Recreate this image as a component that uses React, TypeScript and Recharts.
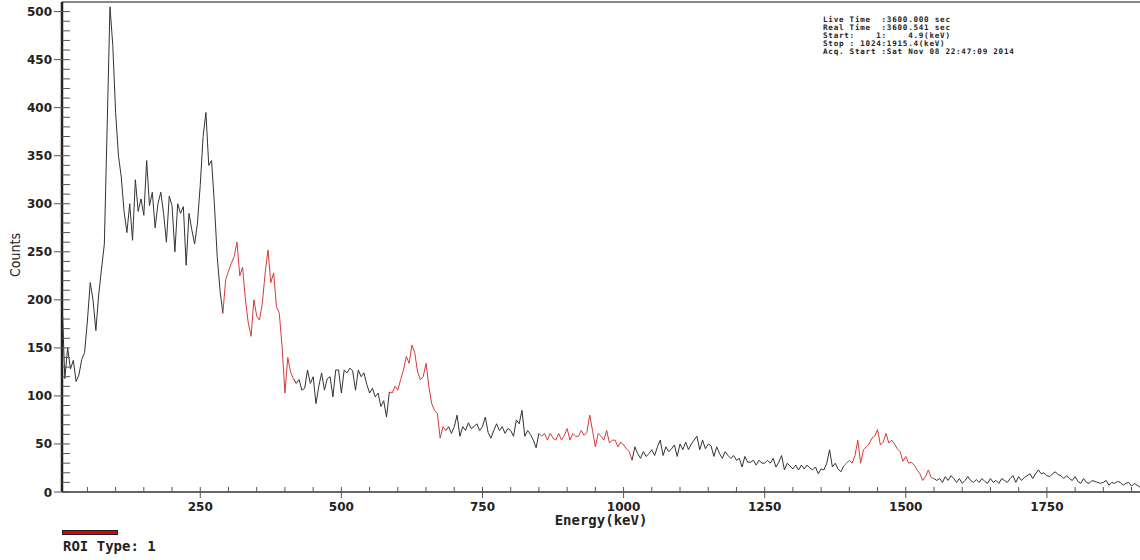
import React from 'react';
import { LineChart, Line, XAxis, YAxis, Label, ReferenceLine } from 'recharts';

// spectrum sampled every 5 keV, starting at 5 keV
const startKeV = 5;
const stepKeV = 5;

const counts5to250 = [
  200, 118, 150, 128, 137, 115, 122, 138, 145, 178,
  218, 200, 168, 205, 232, 258, 380, 505, 465, 395,
  350, 328, 292, 270, 300, 262, 325, 292, 305, 288,
  345, 298, 312, 275, 300, 312, 290, 260, 308, 298,
  250, 300, 290, 297, 236, 290, 273, 258, 280, 320,
];
const counts255to500 = [
  370, 395, 340, 345, 300, 245, 210, 186, 221, 230,
  238, 245, 260, 225, 234, 200, 176, 162, 200, 183,
  179, 197, 228, 252, 218, 228, 193, 186, 151, 103,
  140, 125, 118, 113, 117, 106, 108, 127, 113, 120,
  92, 110, 124, 106, 118, 120, 99, 127, 127, 103,
];
const counts505to750 = [
  127, 124, 129, 126, 106, 127, 120, 124, 112, 103,
  108, 99, 103, 89, 95, 78, 104, 103, 110, 106,
  117, 127, 141, 134, 153, 145, 125, 117, 120, 134,
  110, 92, 85, 82, 56, 68, 64, 68, 61, 68,
  80, 58, 68, 64, 72, 66, 68, 71, 64, 68,
];
const counts755to1000 = [
  78, 62, 56, 64, 71, 64, 68, 61, 66, 64,
  58, 75, 71, 85, 58, 64, 60, 54, 46, 61,
  58, 61, 54, 61, 56, 54, 61, 54, 59, 66,
  54, 61, 58, 58, 64, 59, 62, 80, 64, 47,
  61, 58, 54, 64, 51, 54, 54, 47, 52, 49,
];
const counts1005to1250 = [
  45, 42, 33, 47, 40, 35, 42, 37, 40, 44,
  38, 47, 54, 38, 47, 42, 45, 49, 37, 50,
  44, 52, 44, 50, 54, 58, 44, 54, 45, 50,
  48, 37, 47, 40, 35, 42, 38, 35, 38, 33,
  35, 26, 37, 31, 31, 33, 28, 33, 30, 30,
];
const counts1255to1500 = [
  33, 30, 35, 26, 31, 38, 23, 30, 27, 24,
  28, 23, 28, 24, 28, 25, 23, 26, 19, 24,
  23, 30, 44, 26, 30, 24, 21, 27, 30, 33,
  30, 38, 54, 30, 44, 47, 50, 56, 58, 65,
  49, 52, 61, 51, 54, 50, 45, 42, 32, 37,
];
const counts1505to1750 = [
  30, 31, 28, 23, 19, 12, 16, 23, 15, 14,
  12, 14, 10, 16, 12, 17, 14, 10, 14, 9,
  12, 16, 12, 10, 13, 10, 14, 11, 9, 14,
  10, 12, 9, 14, 12, 10, 14, 17, 10, 16,
  12, 15, 17, 19, 14, 19, 23, 19, 20, 17,
];
const counts1755to1915 = [
  16, 19, 21, 18, 17, 14, 17, 14, 12, 16,
  11, 9, 14, 10, 9, 12, 11, 10, 9, 10,
  12, 7, 10, 9, 11, 10, 7, 9, 10, 6,
  9, 7, 5,
];

// regions of interest (keV), drawn in red
const roiRanges: [number, number][] = [
  [287, 410],
  [582, 680],
  [848, 1012],
  [1388, 1546],
];

const xMajor = [250, 500, 750, 1000, 1250, 1500, 1750];
const xMinorStep = 50;
const yMajor = [0, 50, 100, 150, 200, 250, 300, 350, 400, 450, 500];
const yMinorStep = 10;

const infoLines = [
  'Live Time  :3600.000 sec',
  'Real Time  :3600.541 sec',
  'Start:    1:    4.9(keV)',
  'Stop : 1024:1915.4(keV)',
  'Acq. Start :Sat Nov 08 22:47:09 2014',
];

const allCounts = [
  ...counts5to250, ...counts255to500, ...counts505to750, ...counts755to1000,
  ...counts1005to1250, ...counts1255to1500, ...counts1505to1750, ...counts1755to1915,
];

const inRoi = (e: number) => roiRanges.some(([a, b]) => e >= a && e <= b);

// a segment takes the colour of its left point
const data = allCounts.map((c, i) => {
  const e = startKeV + i * stepKeV;
  const roi = inRoi(e);
  const prevRoi = i > 0 ? inRoi(e - stepKeV) : false;
  return {
    e,
    plain: !roi || !prevRoi ? c : null,
    roi: roi || prevRoi ? c : null,
  };
});

const xTicks: number[] = [];
for (let v = xMinorStep; v <= 1900; v += xMinorStep) xTicks.push(v);
const yTicks: number[] = [];
for (let v = 0; v <= 500; v += yMinorStep) yTicks.push(v);

const tickFont = { fontFamily: '"DejaVu Sans", Verdana, sans-serif', fontWeight: 700, fontSize: 12, fill: '#222' };
const monoFont = '"DejaVu Sans Mono", "Liberation Mono", monospace';

const XTick = (props: any) => {
  const { x, y, payload } = props;
  const major = xMajor.includes(payload.value);
  return (
    <g>
      <line x1={x} x2={x} y1={y - 5} y2={major ? y + 6 : y} stroke="#555" strokeWidth={1} />
      {major && (
        <text x={x} y={y + 19} textAnchor="middle" {...tickFont}>
          {payload.value}
        </text>
      )}
    </g>
  );
};

const YTick = (props: any) => {
  const { x, y, payload } = props;
  const major = yMajor.includes(payload.value);
  return (
    <g>
      <line x1={major ? x - 8 : x} x2={x + 8} y1={y} y2={y} stroke="#555" strokeWidth={1} />
      {major && (
        <text x={x - 10} y={y + 4.5} textAnchor="end" {...tickFont}>
          {payload.value}
        </text>
      )}
    </g>
  );
};

const App: React.FC = () => {
  return (
    <div style={{ position: 'absolute', left: 0, top: 0, width: 1140, height: 560, background: '#fff' }}>
      <LineChart width={1140} height={560} data={data} margin={{ top: 2, right: 0, left: 0, bottom: 0 }}>
        <XAxis
          dataKey="e"
          type="number"
          domain={[5, 1915]}
          ticks={xTicks}
          interval={0}
          tick={<XTick />}
          tickSize={0}
          tickMargin={0}
          tickLine={false}
          height={68}
          axisLine={{ stroke: '#666', strokeWidth: 2 }}
          allowDataOverflow
        >
          <Label
            value="Energy(keV)"
            position="insideTop"
            offset={23}
            style={{ fontFamily: monoFont, fontWeight: 700, fontSize: 14, fill: '#222' }}
          />
        </XAxis>
        <YAxis
          type="number"
          domain={[0, 510]}
          ticks={yTicks}
          interval={0}
          tick={<YTick />}
          tickSize={0}
          tickMargin={0}
          tickLine={false}
          width={62}
          axisLine={{ stroke: '#222', strokeWidth: 2.5 }}
          allowDataOverflow
        >
          <Label
            content={(p: any) => {
              const vb = p.viewBox || { x: 0, y: 2, width: 62, height: 490 };
              const cx = vb.x + 15;
              const cy = vb.y + vb.height / 2 + 8;
              return (
                <text
                  x={cx}
                  y={cy}
                  transform={`rotate(-90 ${cx} ${cy})`}
                  textAnchor="middle"
                  dominantBaseline="central"
                  style={{ fontFamily: '"DejaVu Sans Condensed", "DejaVu Sans", sans-serif', fontSize: 14, fill: '#222' }}
                >
                  Counts
                </text>
              );
            }}
          />
        </YAxis>
        <ReferenceLine y={510} stroke="#888" strokeWidth={2} />
        <Line
          dataKey="plain"
          type="linear"
          stroke="#333"
          strokeWidth={1}
          dot={false}
          activeDot={false}
          connectNulls={false}
          isAnimationActive={false}
        />
        <Line
          dataKey="roi"
          type="linear"
          stroke="#d63a3a"
          strokeWidth={1}
          dot={false}
          activeDot={false}
          connectNulls={false}
          isAnimationActive={false}
        />
      </LineChart>

      <div
        style={{
          position: 'absolute',
          left: 823,
          top: 16,
          fontFamily: monoFont,
          fontWeight: 700,
          fontSize: 7.6,
          lineHeight: '8px',
          letterSpacing: '0.75px',
          color: '#222',
          whiteSpace: 'pre',
        }}
      >
        {infoLines.map((l) => (
          <div key={l} style={{ height: 8 }}>{l}</div>
        ))}
      </div>

      <div
        style={{
          position: 'absolute',
          left: 62,
          top: 530,
          width: 54,
          height: 3,
          background: '#e00000',
          border: '1px solid #222',
        }}
      />
      <div
        style={{
          position: 'absolute',
          left: 63,
          top: 538,
          fontFamily: monoFont,
          fontWeight: 700,
          fontSize: 14,
          color: '#222',
          whiteSpace: 'pre',
        }}
      >
        ROI Type: 1
      </div>
    </div>
  );
};

export default App;
